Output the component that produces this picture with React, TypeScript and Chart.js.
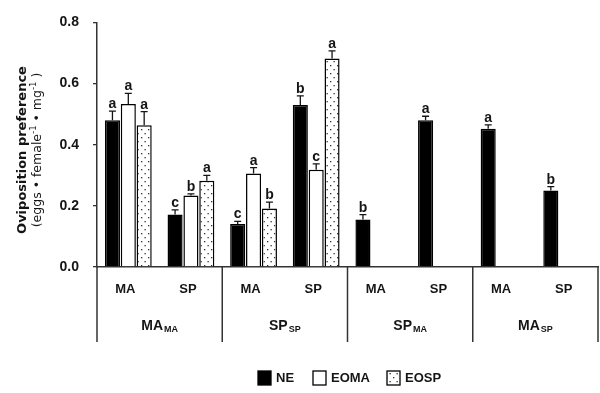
import React, { useEffect, useRef } from "react";
import { Chart, registerables } from "chart.js";

Chart.register(...registerables);

const categories = ["MA", "SP", "MA", "SP", "MA", "SP", "MA", "SP"];
const groupMain = ["MA", "SP", "SP", "MA"];
const groupSub = ["MA", "SP", "MA", "SP"];
const seriesNames = ["NE", "EOMA", "EOSP"];
const neValues = [0.48, 0.172, 0.141, 0.53, 0.155, 0.48, 0.452, 0.25];
const eomaValues = [0.533, 0.234, 0.306, 0.318, null, null, null, null];
const eospValues = [0.464, 0.282, 0.191, 0.682, null, null, null, null];
const neErrors = [0.03, 0.015, 0.008, 0.03, 0.016, 0.013, 0.013, 0.013];
const eomaErrors = [0.035, 0.005, 0.019, 0.019, null, null, null, null];
const eospErrors = [0.044, 0.018, 0.021, 0.025, null, null, null, null];
const neLetters = ["a", "c", "c", "b", "b", "a", "a", "b"];
const eomaLetters = ["a", "b", "a", "c", "", "", "", ""];
const eospLetters = ["a", "a", "b", "a", "", "", "", ""];
const yTicks = [0, 0.2, 0.4, 0.6, 0.8];

const FONT = "'Liberation Sans', Arial, sans-serif";
const TFONT = "'DejaVu Sans', Verdana, sans-serif";
const INK = "#151515";

function makePattern(): CanvasPattern | string {
  const c = document.createElement("canvas");
  c.width = 7;
  c.height = 8;
  const g = c.getContext("2d");
  if (!g) return "#fff";
  g.fillStyle = "#fff";
  g.fillRect(0, 0, 7, 8);
  g.fillStyle = "#333";
  g.fillRect(1, 1, 1.3, 1.3);
  g.fillRect(4.5, 5, 1.3, 1.3);
  return g.createPattern(c, "repeat") || "#fff";
}

export default function App() {
  const ref = useRef<HTMLCanvasElement | null>(null);

  useEffect(() => {
    if (!ref.current) return;
    const pattern = makePattern();
    const errs = [neErrors, eomaErrors, eospErrors];
    const letters = [neLetters, eomaLetters, eospLetters];

    const overlay = {
      id: "overlay",
      afterDatasetsDraw(chart: any) {
        const ctx = chart.ctx as CanvasRenderingContext2D;
        const ys = chart.scales.y;
        const xs = chart.scales.x;
        const area = chart.chartArea;
        ctx.save();
        chart.data.datasets.forEach((ds: any, di: number) => {
          const meta = chart.getDatasetMeta(di);
          meta.data.forEach((bar: any, j: number) => {
            const v = ds.data[j];
            if (v == null) return;
            const e = errs[di][j] || 0;
            const yTop = ys.getPixelForValue(v);
            const yErr = ys.getPixelForValue(v + e);
            ctx.strokeStyle = INK;
            ctx.lineWidth = 1.3;
            ctx.beginPath();
            ctx.moveTo(bar.x, yTop);
            ctx.lineTo(bar.x, yErr);
            ctx.moveTo(bar.x - 3.5, yErr);
            ctx.lineTo(bar.x + 3.5, yErr);
            ctx.stroke();
            const L = letters[di][j];
            if (L) {
              ctx.fillStyle = INK;
              ctx.font = `bold 14px ${FONT}`;
              ctx.textAlign = "center";
              ctx.textBaseline = "alphabetic";
              ctx.fillText(L, bar.x, yErr - 3);
            }
          });
        });

        const n = categories.length;
        const step = (xs.right - xs.left) / n;
        ctx.fillStyle = INK;
        ctx.textBaseline = "middle";
        ctx.textAlign = "center";
        ctx.font = `bold 13px ${FONT}`;
        categories.forEach((c, i) => {
          const cx = xs.getPixelForValue(i);
          ctx.fillText(c, cx - 3, 289);
        });
        ctx.strokeStyle = "#333";
        ctx.lineWidth = 1.5;
        for (let g = 0; g <= groupMain.length; g++) {
          const x = Math.min(xs.left + g * 2 * step, 598.5);
          ctx.beginPath();
          ctx.moveTo(x, area.bottom);
          ctx.lineTo(x, 342);
          ctx.stroke();
        }
        groupMain.forEach((m, g) => {
          const cx = xs.left + (g * 2 + 1) * step;
          ctx.font = `bold 14px ${FONT}`;
          const w1 = ctx.measureText(m).width;
          ctx.font = `bold 9px ${FONT}`;
          const w2 = ctx.measureText(groupSub[g]).width;
          const start = cx - (w1 + w2 + 1) / 2;
          ctx.textAlign = "left";
          ctx.font = `bold 14px ${FONT}`;
          ctx.fillText(m, start, 326);
          ctx.font = `bold 9px ${FONT}`;
          ctx.fillText(groupSub[g], start + w1 + 1, 330);
          ctx.textAlign = "center";
        });

        const fills: any[] = ["#000", "#fff", pattern];
        const legendX = [258, 313, 387];
        ctx.font = `bold 13px ${FONT}`;
        ctx.textAlign = "left";
        seriesNames.forEach((s, i) => {
          const x = legendX[i];
          ctx.fillStyle = fills[i];
          ctx.fillRect(x, 371, 13, 14);
          ctx.strokeStyle = "#000";
          ctx.lineWidth = 1.3;
          ctx.strokeRect(x, 371, 13, 14);
          ctx.fillStyle = INK;
          ctx.fillText(s, x + 18, 378.5);
        });

        ctx.save();
        ctx.translate(23, 150);
        ctx.rotate(-Math.PI / 2);
        ctx.textAlign = "center";
        ctx.textBaseline = "middle";
        ctx.font = `bold 13px ${TFONT}`;
        ctx.fillStyle = INK;
        ctx.fillText("Oviposition preference", 0, 0);
        ctx.restore();

        ctx.save();
        ctx.translate(38, 150);
        ctx.rotate(-Math.PI / 2);
        ctx.textBaseline = "middle";
        const parts: [string, boolean][] = [
          ["(eggs • female", false],
          ["-1", true],
          [" • mg", false],
          ["-1", true],
          [" )", false],
        ];
        const fn = (sup: boolean) => (sup ? `8.5px ${TFONT}` : `12.5px ${TFONT}`);
        let total = 0;
        parts.forEach(([t, s]) => {
          ctx.font = fn(s);
          total += ctx.measureText(t).width;
        });
        let px = -total / 2;
        ctx.textAlign = "left";
        ctx.fillStyle = INK;
        parts.forEach(([t, s]) => {
          ctx.font = fn(s);
          ctx.fillText(t, px, s ? -4 : 0);
          px += ctx.measureText(t).width;
        });
        ctx.restore();

        ctx.restore();
      },
    };

    const chart = new Chart(ref.current, {
      type: "bar",
      data: {
        labels: categories,
        datasets: [
          {
            label: seriesNames[0],
            data: neValues,
            backgroundColor: "#000",
            borderColor: "#000",
            borderWidth: 1.5,
          },
          {
            label: seriesNames[1],
            data: eomaValues as any,
            backgroundColor: "#fff",
            borderColor: "#000",
            borderWidth: 1.5,
          },
          {
            label: seriesNames[2],
            data: eospValues as any,
            backgroundColor: pattern as any,
            borderColor: "#000",
            borderWidth: 1.5,
          },
        ],
      },
      options: {
        animation: false,
        responsive: false,
        maintainAspectRatio: false,
        datasets: {
          bar: { categoryPercentage: 0.76, barPercentage: 0.95 },
        },
        layout: { padding: { top: 15, right: 2, bottom: 126, left: 0 } },
        plugins: {
          legend: { display: false },
          tooltip: { enabled: false },
        },
        scales: {
          x: {
            display: true,
            grid: { display: false, drawTicks: false },
            ticks: { display: false },
            border: { display: true, color: "#333", width: 1.5 },
            afterFit: (s: any) => {
              s.height = 0;
            },
          },
          y: {
            min: 0,
            max: 0.8,
            afterBuildTicks: (s: any) => {
              s.ticks = yTicks.map((v) => ({ value: v }));
            },
            ticks: {
              callback: (v: any) => Number(v).toFixed(1),
              font: { family: FONT, size: 14, weight: "bold" },
              color: INK,
              padding: 14,
            },
            grid: {
              drawOnChartArea: false,
              tickLength: 4,
              color: "#333",
              lineWidth: 1.3,
            },
            border: { display: true, color: "#333", width: 1.5 },
            afterFit: (s: any) => {
              s.width = 97;
            },
          },
        },
      },
      plugins: [overlay],
    });
    return () => chart.destroy();
  }, []);

  return (
    <div style={{ position: "fixed", left: 0, top: 0, width: 600, height: 393, background: "#fff" }}>
      <canvas ref={ref} width={600} height={393} style={{ width: 600, height: 393 }} />
    </div>
  );
}
